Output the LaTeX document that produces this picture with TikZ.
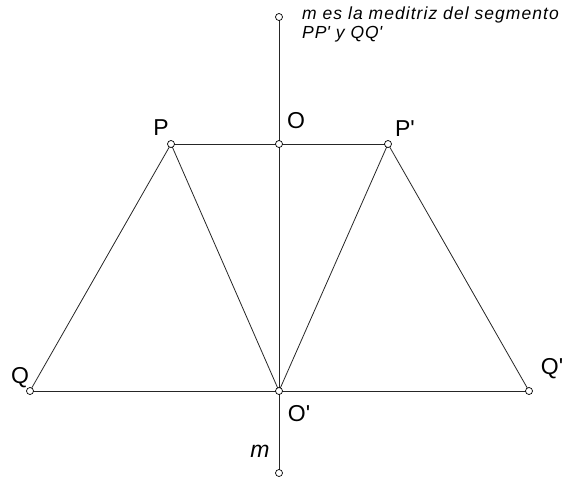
\documentclass[tikz,border=0pt]{standalone}
\usepackage{fontspec}
\setmainfont{Liberation Sans}
\newcommand{\sq}{\textquotesingle}
\begin{document}
\begin{tikzpicture}[x=1pt,y=-1pt,
  pt/.style={circle,draw=black,fill=white,inner sep=0pt,minimum size=7pt,line width=0.7pt},
  ln/.style={line width=0.8pt,draw=black!85},
  lbl/.style={font=\fontsize{23}{26}\selectfont,inner sep=0pt},
  note/.style={font=\fontsize{17.5}{20}\selectfont\itshape\addfontfeature{LetterSpace=6},inner sep=0pt,anchor=base west}]
\useasboundingbox (0,0) rectangle (575,477);
\coordinate (Tc) at (279,17);
\coordinate (Oc) at (279,144);
\coordinate (Pc) at (171,144);
\coordinate (P2c) at (388,144);
\coordinate (Qc) at (30,391);
\coordinate (O2c) at (279,391);
\coordinate (Q2c) at (529,391);
\coordinate (Bc) at (279,473);
\draw[ln] (Tc) -- (Bc);
\draw[ln] (Pc) -- (P2c);
\draw[ln] (Qc) -- (Q2c);
\draw[ln] (Qc) -- (Pc) -- (O2c) -- (P2c) -- (Q2c);
\node[pt] (T) at (Tc) {};
\node[pt] (O) at (Oc) {};
\node[pt] (P) at (Pc) {};
\node[pt] (P2) at (P2c) {};
\node[pt] (Q) at (Qc) {};
\node[pt] (O2) at (O2c) {};
\node[pt] (Q2) at (Q2c) {};
\node[pt] (B) at (Bc) {};
\node[lbl] (lP) at (161,128) {P};
\node[lbl] (lO) at (296,121) {O};
\node[lbl] (lP2) at (405,129) {P\sq};
\node[lbl] (lQ) at (20,378) {Q};
\node[lbl] (lO2) at (299,414) {O\sq};
\node[lbl] (lQ2) at (552,369) {Q\sq};
\node[lbl,font=\fontsize{23}{26}\selectfont\itshape] (lm) at (260,451) {m};
\node[note] (n1) at (302,19) {m es la meditriz del segmento};
\node[note] (n2) at (302,38) {PP\sq{} y QQ\sq};
\end{tikzpicture}
\end{document}
